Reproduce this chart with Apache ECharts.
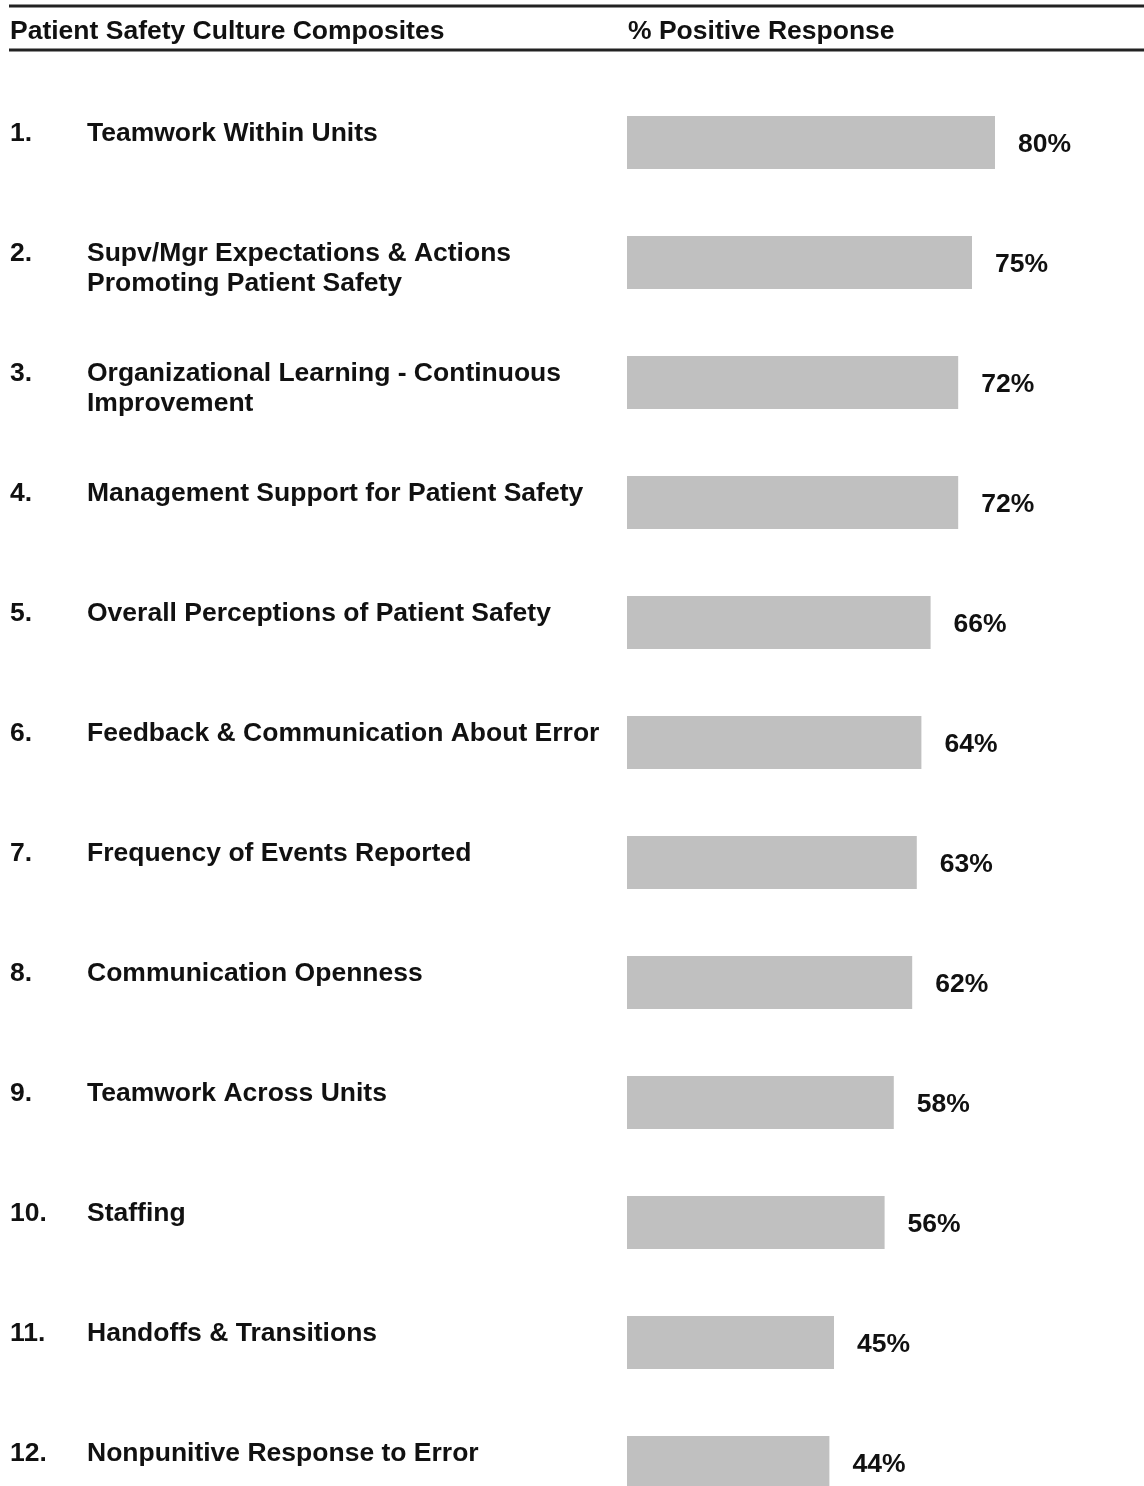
<!DOCTYPE html>
<html>
<head>
<meta charset="utf-8">
<script src="https://cdn.jsdelivr.net/npm/echarts@6/dist/echarts.min.js"></script>
<style>
	html,body{margin:0;padding:0;background:#fff;}
	#psc{width:1144px;height:1486px;}
</style>
</head>
<body>
<div id="psc"></div>
<script>
	// survey composites, top to bottom
	var nums = ['1.','2.','3.','4.','5.','6.','7.','8.','9.','10.','11.','12.']
	var names = [
		'Teamwork Within Units',
		'Supv/Mgr Expectations & Actions\nPromoting Patient Safety',
		'Organizational Learning - Continuous\nImprovement',
		'Management Support for Patient Safety',
		'Overall Perceptions of Patient Safety',
		'Feedback & Communication About Error',
		'Frequency of Events Reported',
		'Communication Openness',
		'Teamwork Across Units',
		'Staffing',
		'Handoffs & Transitions',
		'Nonpunitive Response to Error'
	]
	var positive = [80,75,72,72,66,64,63,62,58,56,45,44]

	var font = "'Liberation Sans', Arial, sans-serif"
	var fs = 26.5
	var chart = echarts.init(document.getElementById('psc'))

	var option = {
		backgroundColor:'#fff',
		animation:false,
		title:[
			{
				text:'Patient Safety Culture Composites',
				left:10, top:19, padding:0,
				textStyle:{fontFamily:font,fontSize:fs,fontWeight:'bold',color:'#111',lineHeight:26}
			},
			{
				text:'% Positive Response',
				left:628, top:19, padding:0,
				textStyle:{fontFamily:font,fontSize:fs,fontWeight:'bold',color:'#111',lineHeight:26}
			}
		],
		graphic:[
			{type:'line',shape:{x1:9,y1:6,x2:1144,y2:6},style:{stroke:'#222',lineWidth:3}},
			{type:'line',shape:{x1:9,y1:50,x2:1144,y2:50},style:{stroke:'#222',lineWidth:3}}
		],
		grid:{
			left:627,
			top:82.5,
			width:460,
			height:1440,
			outerBoundsMode:'none',
			containLabel:false
		},
		xAxis:{
			type:'value',
			min:0,
			max:100,
			show:false
		},
		yAxis:{
			type:'category',
			inverse:true,
			data:names,
			axisLine:{show:false},
			axisTick:{show:false},
			splitLine:{show:false},
			axisLabel:{
				interval:0,
				align:'left',
				verticalAlign:'middle',
				margin:617,
				padding:[13,0,0,0],
				formatter:function(value,idx){
					var lines = value.split('\n')
					if(lines.length<2){
						lines.push('')
					}
					var out = []
					for(var i=0;i<lines.length;i++){
						var n = i==0 ? nums[idx] : ' '
						out.push('{n|'+n+'}{t|'+(lines[i]||' ')+'}')
					}
					return out.join('\n')
				},
				rich:{
					n:{width:77,fontFamily:font,fontSize:fs,fontWeight:'bold',color:'#111',lineHeight:30},
					t:{fontFamily:font,fontSize:fs,fontWeight:'bold',color:'#111',lineHeight:30}
				}
			}
		},
		series:[
			{
				type:'bar',
				data:positive,
				barWidth:53,
				itemStyle:{color:'#c0c0c0'},
				label:{
					show:true,
					position:'right',
					distance:23,
					offset:[0,2],
					formatter:'{c}%',
					fontFamily:font,
					fontSize:fs,
					fontWeight:'bold',
					color:'#111'
				}
			}
		]
	}
	chart.setOption(option)
</script>
</body>
</html>
